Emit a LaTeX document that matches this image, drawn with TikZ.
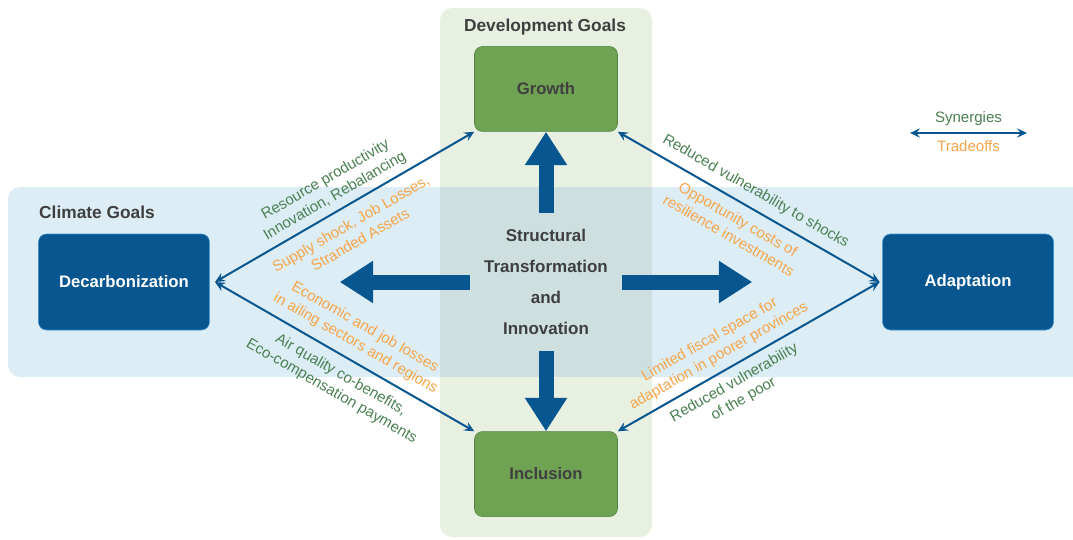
\documentclass[tikz,border=0pt]{standalone}
\usepackage{fontspec}
\setmainfont{Liberation Sans}
\usetikzlibrary{positioning, arrows.meta}
\definecolor{bandblue}{HTML}{DDEDF6}
\definecolor{colgreen}{HTML}{E8F0E2}
\definecolor{overlap}{HTML}{CDE0DF}
\definecolor{arrowblue}{HTML}{07568F}
\definecolor{boxedge}{HTML}{3A93D0}
\definecolor{boxgreen}{HTML}{70A253}
\definecolor{greenedge}{HTML}{4F8243}
\definecolor{syngreen}{HTML}{4A8052}
\definecolor{tradeorange}{HTML}{F6A54A}
\definecolor{titlegray}{HTML}{3F3F3F}
\tikzset{
goaltitle/.style={font=\fontsize{13}{15}\selectfont\bfseries, text=titlegray}, % heading of a goal region
bluebox/.style={draw=boxedge, fill=arrowblue, rounded corners=6pt, text=white, font=\fontsize{12.5}{15}\selectfont\bfseries, minimum width=128.25pt, minimum height=72pt}, % climate goals
greenbox/.style={draw=greenedge, fill=boxgreen, rounded corners=6pt, text=titlegray, font=\fontsize{12.5}{15}\selectfont\bfseries, minimum width=107.25pt, minimum height=63.75pt}, % development goals
centre/.style={align=center, inner sep=0pt, minimum width=114pt, minimum height=103.5pt, text=titlegray, font=\fontsize{12.75}{23.25}\selectfont\bfseries}, % the middle text
fat/.style={draw=arrowblue, line width=11.25pt, -{Triangle[length=25pt, width=30pt]}}, % thick arrows out of the middle
link/.style={>={Stealth[length=7.5pt, width=7pt, inset=2.8pt]}, <->, draw=arrowblue, line width=1.5pt}, % thin double arrows
lbl/.style={font=\fontsize{11.3}{14}\selectfont, align=center, sloped, inner xsep=0pt}, % text on a thin arrow
syn/.style={lbl, text=syngreen}, % synergies
trd/.style={lbl, text=tradeorange}, % tradeoffs
}
\begin{document}
\begin{tikzpicture}[x=0.75pt, y=-0.75pt]
  \clip (0,0) rectangle (1073,539);
  % goal regions
  \fill[bandblue, rounded corners=9pt] (8,187) rectangle (1100,377);
  \fill[colgreen, rounded corners=9pt] (440,8) rectangle (652,537);
  \fill[overlap] (440,187) rectangle (652,377);
  \node[goaltitle] (clim) at (97,212) {Climate Goals};
  \node[goaltitle] (devt) at (545,27) {Development Goals};

  \node[centre] (ctr) at (546,282) {Structural\\Transformation\\and\\Innovation};
  \node[greenbox, above=60.75pt of ctr] (grw) {Growth};
  \node[greenbox, below=60pt of ctr] (inc) {Inclusion};
  \node[bluebox, left=195pt of ctr] (dec) {Decarbonization};
  \node[bluebox, right=195pt of ctr] (ada) {Adaptation};
  \coordinate[left=97.5pt of ctr] (lft);
  \coordinate[right=97.5pt of ctr] (rgt);

  \draw[fat] (ctr.north) -- (grw.south);
  \draw[fat] (ctr.south) -- (inc.north);
  \draw[fat] (ctr.west) -- (lft);
  \draw[fat] (ctr.east) -- (rgt);

  \draw[link] ([xshift=4pt]dec.east) --
      node[syn, above, inner ysep=4.5pt, pos=.49] {Resource productivity\\Innovation, Rebalancing}
      node[trd, below, inner ysep=8pt, pos=.49] {Supply shock, Job Losses,\\Stranded Assets}
      (grw.south west);
  \draw[link] ([xshift=4pt]dec.east) --
      node[trd, above, inner ysep=6.5pt, pos=.51] {Economic and job losses\\in ailing sectors and regions}
      node[syn, below, inner ysep=7.5pt, pos=.52] {Air quality co-benefits,\\Eco-compensation payments}
      (inc.north west);
  \draw[link] (grw.south east) --
      node[syn, above, inner ysep=6.6pt, pos=.495] {Reduced vulnerability to shocks}
      node[trd, below, inner ysep=7pt, pos=.49] {Opportunity costs of\\resilience investments}
      ([xshift=-2pt]ada.west);
  \draw[link] (inc.north east) --
      node[trd, above, inner ysep=5.3pt, pos=.415] {Limited fiscal space for\\adaptation in poorer provinces}
      node[syn, below, inner ysep=6pt, pos=.415] {Reduced vulnerability\\of the poor}
      ([xshift=-2pt]ada.west);

  % legend
  \coordinate (legl) at (910,133);
  \coordinate (legr) at (1027,133);
  \draw[link] (legl) -- node[syn, above, inner ysep=5pt] {Synergies}
      node[trd, below, inner ysep=5pt] {Tradeoffs} (legr);
\end{tikzpicture}
\end{document}
